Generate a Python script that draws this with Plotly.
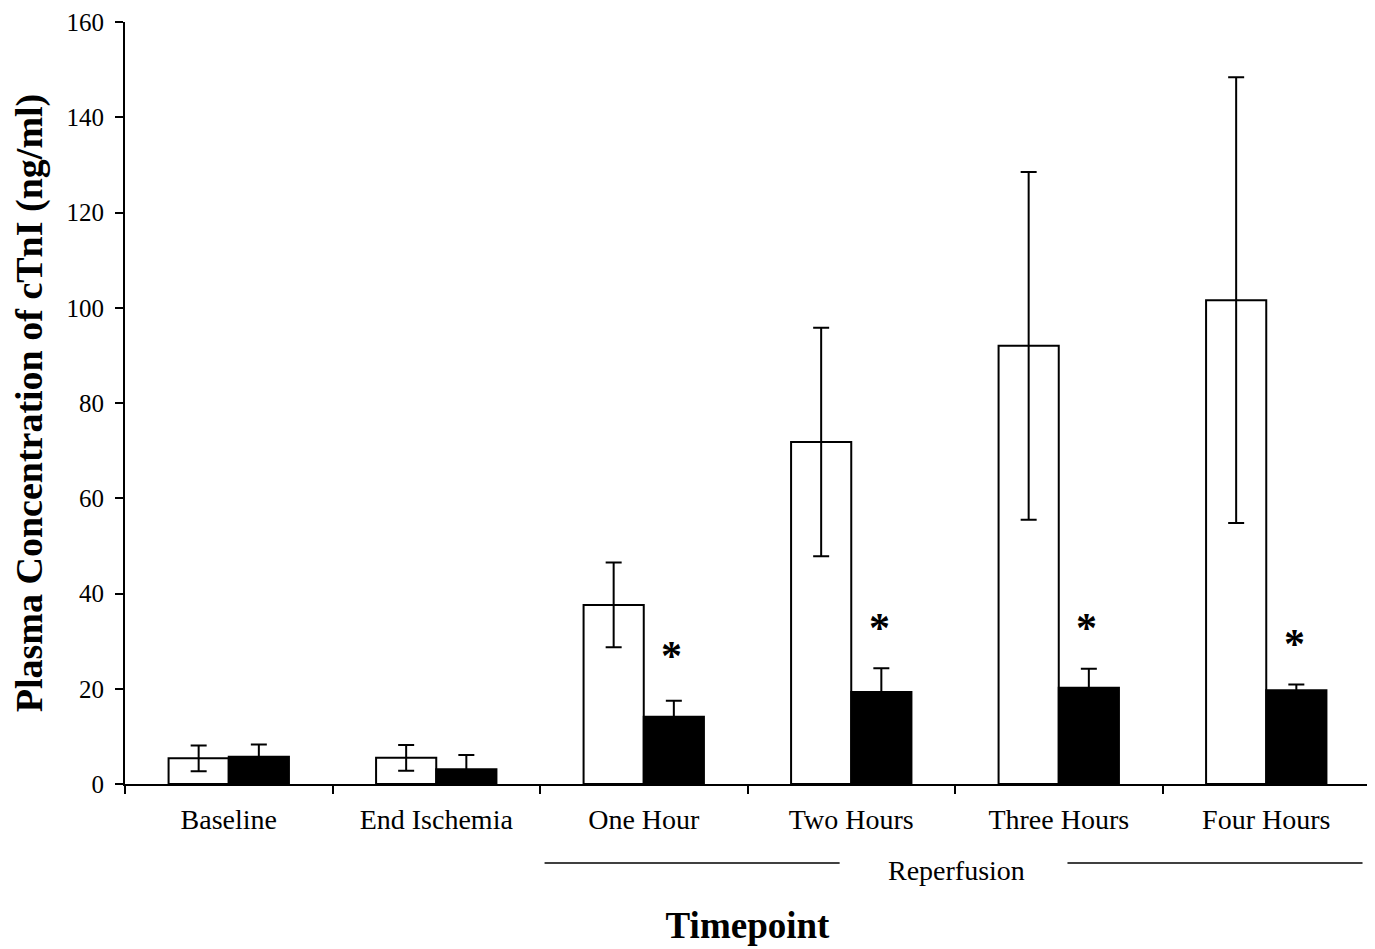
import plotly.graph_objects as go

categories = ["Baseline", "End Ischemia", "One Hour", "Two Hours", "Three Hours", "Four Hours"]
control_mean = [5.4, 5.5, 37.6, 71.8, 92.0, 101.6]
control_err = [2.7, 2.7, 8.9, 24.0, 36.5, 46.8]
treated_mean = [5.7, 3.1, 14.1, 19.3, 20.2, 19.7]
treated_err = [2.6, 3.0, 3.4, 5.0, 4.0, 1.2]
star_cats = ["One Hour", "Two Hours", "Three Hours", "Four Hours"]
star_y = [28.1, 34.0, 34.0, 30.7]

FONT = "Liberation Serif"

fig = go.Figure()
fig.add_trace(go.Bar(
    x=categories, y=control_mean, name="Control",
    marker=dict(color="white", line=dict(color="black", width=2)),
    error_y=dict(type="data", array=control_err, visible=True, color="black", thickness=2, width=8),
))
fig.add_trace(go.Bar(
    x=categories, y=treated_mean, name="Treated",
    marker=dict(color="black", line=dict(color="black", width=2)),
    error_y=dict(type="data", array=treated_err, visible=True, color="black", thickness=2, width=8),
))

for c, yv in zip(star_cats, star_y):
    fig.add_annotation(x=c, y=yv, text="<b>*</b>", showarrow=False, xshift=28, yshift=-6,
                       font=dict(family=FONT, size=42, color="black"),
                       xanchor="center", yanchor="middle")

# Reperfusion bracket
fig.add_shape(type="line", xref="paper", yref="paper", x0=0.337, x1=0.574, y0=-0.1037, y1=-0.1037,
              line=dict(color="black", width=1.5))
fig.add_shape(type="line", xref="paper", yref="paper", x0=0.757, x1=0.994, y0=-0.1037, y1=-0.1037,
              line=dict(color="black", width=1.5))
fig.add_annotation(xref="paper", yref="paper", x=0.668, y=-0.113, text="Reperfusion", showarrow=False,
                   font=dict(family=FONT, size=28, color="black"), xanchor="center", yanchor="middle")

fig.update_layout(
    width=1375, height=949,
    margin=dict(l=117, r=13, t=14, b=173),
    plot_bgcolor="white", paper_bgcolor="white",
    showlegend=False,
    barmode="group", bargap=0.42, bargroupgap=0,
    font=dict(family=FONT, color="black", size=28),
    xaxis=dict(
        automargin=False,
        showline=True, linecolor="black", linewidth=2,
        ticks="outside", tickson="boundaries", ticklen=8, tickwidth=2, tickcolor="black",
        tickfont=dict(family=FONT, size=28), ticklabelstandoff=9,
        title=dict(text="<b>Timepoint</b>", font=dict(family=FONT, size=37), standoff=79),
    ),
    yaxis=dict(
        automargin=False,
        range=[0, 160], tickvals=[0, 20, 40, 60, 80, 100, 120, 140, 160],
        showline=True, linecolor="black", linewidth=2, showgrid=False, zeroline=False,
        ticks="outside", ticklen=8, tickwidth=2, tickcolor="black",
        tickfont=dict(family=FONT, size=25), ticklabelstandoff=6,
        title=dict(text="<b>Plasma Concentration of cTnI (ng/ml)</b>", font=dict(family=FONT, size=38), standoff=14),
    ),
)

fig.write_html("out.html")
